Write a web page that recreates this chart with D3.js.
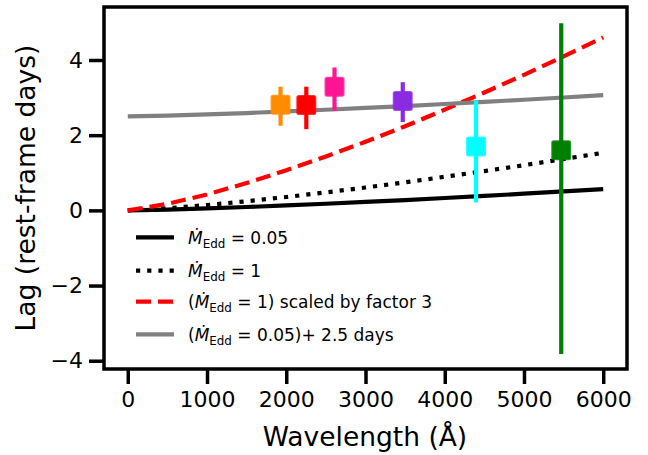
<!DOCTYPE html>
<html>
<head>
<meta charset="utf-8">
<script src="https://cdn.jsdelivr.net/npm/d3@7"></script>
<style>
  html, body { margin: 0; padding: 0; background: #fff; }
  svg { display: block; font-family: "DejaVu Sans", sans-serif; }
</style>
</head>
<body>
<svg id="chart" width="648" height="455"></svg>
<script>
// ---- data ----
const wavelengths = [0, 500, 1000, 1500, 2000, 2500, 3000, 3500, 4000, 4500, 5000, 5500, 6000];
const lagEdd005   = [0, 0.021, 0.052, 0.089, 0.131, 0.176, 0.224, 0.275, 0.329, 0.385, 0.443, 0.503, 0.565];
const lagEdd1     = [0, 0.057, 0.141, 0.242, 0.355, 0.478, 0.608, 0.746, 0.893, 1.045, 1.202, 1.365, 1.533];
const lagEdd1x3   = [0, 0.171, 0.423, 0.726, 1.065, 1.434, 1.824, 2.238, 2.679, 3.135, 3.606, 4.095, 4.600];
const lagEdd005p  = [2.5, 2.521, 2.552, 2.589, 2.631, 2.676, 2.724, 2.775, 2.829, 2.885, 2.943, 3.003, 3.065];

const obsWave   = [1928, 2253, 2609, 3470, 4395, 5470];
const obsLag    = [2.81, 2.80, 3.29, 2.91, 1.70, 1.60];
const obsErrLo  = [0.56, 0.64, 0.64, 0.56, 1.49, 5.42];
const obsErrHi  = [0.48, 0.49, 0.51, 0.50, 1.22, 3.38];
const obsColors = ["#ff8c00", "#ff0000", "#ff1493", "#8a2be2", "#00ffff", "#008000"];

const xTicks = [0, 1000, 2000, 3000, 4000, 5000, 6000];
const yTicks = [-4, -2, 0, 2, 4];

const legendLabels = [
  {pre: "", post: " = 0.05"},
  {pre: "", post: " = 1"},
  {pre: "(", post: " = 1) scaled by factor 3"},
  {pre: "(", post: " = 0.05)+ 2.5 days"}
];

// ---- layout ----
const svg = d3.select("#chart");
const L = 104, R = 627, T = 7, B = 369;
const x = d3.scaleLinear().domain([-300, 6300]).range([L, R]);
const y = d3.scaleLinear().domain([-4.22, 5.41]).range([B, T]);

const lineStyles = [
  {data: lagEdd005,  color: "#000000", width: 4.2, dash: null},
  {data: lagEdd1,    color: "#000000", width: 4.2, dash: "4.2,7"},
  {data: lagEdd1x3,  color: "#ff0000", width: 4.2, dash: "15,7"},
  {data: lagEdd005p, color: "#808080", width: 4.2, dash: null}
];

const gPlot = svg.append("g");
svg.append("clipPath").attr("id", "clip")
  .append("rect").attr("x", L).attr("y", T).attr("width", R - L).attr("height", B - T);
gPlot.attr("clip-path", "url(#clip)");

const lineGen = d3.line().x((d, i) => x(wavelengths[i])).y(d => y(d));
lineStyles.forEach(s => {
  gPlot.append("path")
    .attr("d", lineGen(s.data))
    .attr("fill", "none")
    .attr("stroke", s.color)
    .attr("stroke-width", s.width)
    .attr("stroke-dasharray", s.dash)
    .attr("stroke-linecap", "butt");
});

// error bars + markers
obsWave.forEach((w, i) => {
  gPlot.append("line")
    .attr("x1", x(w)).attr("x2", x(w))
    .attr("y1", y(obsLag[i] - obsErrLo[i]))
    .attr("y2", y(obsLag[i] + obsErrHi[i]))
    .attr("stroke", obsColors[i]).attr("stroke-width", 4.2);
});
obsWave.forEach((w, i) => {
  const s = 18;
  gPlot.append("rect")
    .attr("x", x(w) - s / 2).attr("y", y(obsLag[i]) - s / 2)
    .attr("width", s).attr("height", s)
    .attr("rx", 1.5)
    .attr("fill", obsColors[i])
    .attr("stroke", obsColors[i]).attr("stroke-width", 2).attr("stroke-opacity", 0.8);
});

// axes
const xAxis = d3.axisBottom(x).tickValues(xTicks).tickSize(15).tickPadding(7).tickFormat(d3.format("d"));
const yAxis = d3.axisLeft(y).tickValues(yTicks).tickSize(15).tickPadding(6)
  .tickFormat(d => d < 0 ? "\u2212" + Math.abs(d) : String(d));

const gx = svg.append("g").attr("transform", `translate(0,${B})`).call(xAxis);
const gy = svg.append("g").attr("transform", `translate(${L},0)`).call(yAxis);
[gx, gy].forEach(g => {
  g.select(".domain").remove();
  g.selectAll(".tick line").attr("stroke", "#000").attr("stroke-width", 3.5);
  g.selectAll(".tick text").attr("fill", "#000")
    .style("font-family", "DejaVu Sans").style("font-size", "22px");
});

// frame
svg.append("rect").attr("x", L).attr("y", T).attr("width", R - L).attr("height", B - T)
  .attr("fill", "none").attr("stroke", "#000").attr("stroke-width", 3.5);

// axis labels
svg.append("text").attr("x", 365).attr("y", 446).attr("text-anchor", "middle")
  .style("font-size", "26.5px").attr("fill", "#000").text("Wavelength (\u00c5)");
svg.append("text").attr("transform", "translate(35,188) rotate(-90)").attr("text-anchor", "middle")
  .style("font-size", "26.5px").attr("fill", "#000").text("Lag (rest-frame days)");

// legend
const legY = [237.3, 270.7, 301.7, 334.3];
const legFont = 17;
legendLabels.forEach((lab, i) => {
  const s = lineStyles[i];
  svg.append("line")
    .attr("x1", 136).attr("x2", 174)
    .attr("y1", legY[i]).attr("y2", legY[i])
    .attr("stroke", s.color).attr("stroke-width", s.width)
    .attr("stroke-dasharray", s.dash);
  const t = svg.append("text").attr("x", 188).attr("y", legY[i] + 6.2)
    .style("font-size", legFont + "px").attr("fill", "#000");
  if (lab.pre) t.append("tspan").text(lab.pre);
  t.append("tspan").style("font-style", "italic").text("\u1E40");
  t.append("tspan").attr("dy", 4).style("font-size", (legFont * 0.7) + "px").text("Edd");
  t.append("tspan").attr("dy", -4).text(lab.post);
});
</script>
</body>
</html>
